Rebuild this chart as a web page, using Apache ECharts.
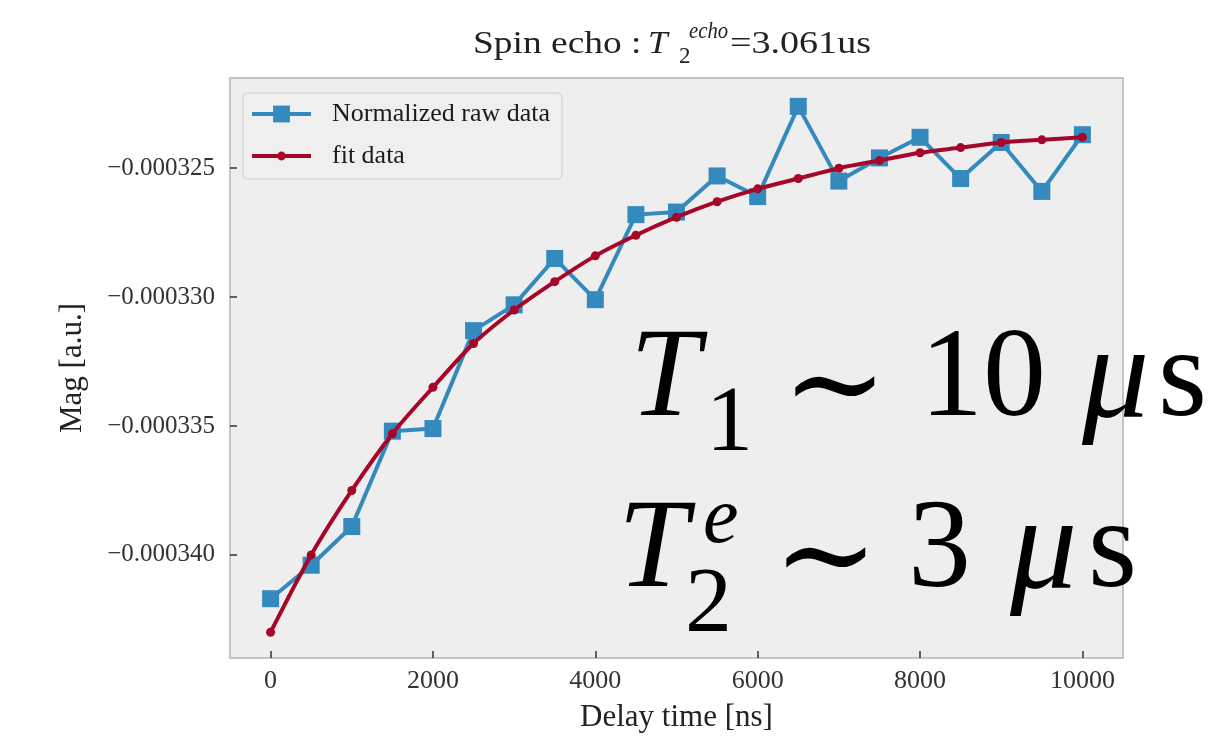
<!DOCTYPE html>
<html>
<head>
<meta charset="utf-8">
<script src="https://cdn.jsdelivr.net/npm/echarts@6/dist/echarts.min.js"></script>
<style>
  html, body { margin: 0; padding: 0; background: #ffffff; }
  #chart { width: 1219px; height: 739px; }
</style>
</head>
<body>
<div id="chart"></div>
<script>
// Delay times of the spin-echo sequence [ns]
const delayTimes = [0, 500, 1000, 1500, 2000, 2500, 3000, 3500, 4000, 4500, 5000,
                    5500, 6000, 6500, 7000, 7500, 8000, 8500, 9000, 9500, 10000];

// Measured magnitude (normalized raw data)
const rawMag = [-0.0003417, -0.0003404, -0.0003389, -0.0003352, -0.0003351, -0.0003313,
                -0.0003303, -0.0003285, -0.0003301, -0.0003268, -0.0003267, -0.0003253,
                -0.0003261, -0.0003226, -0.0003255, -0.0003246, -0.0003238, -0.0003254,
                -0.0003240, -0.0003259, -0.0003237];

// Exponential fit evaluated at the same delays
const fitMag = [-0.0003430, -0.0003400, -0.0003375, -0.0003353, -0.0003335, -0.0003318,
                -0.0003305, -0.0003294, -0.0003284, -0.0003276, -0.0003269, -0.0003263,
                -0.0003258, -0.0003254, -0.0003250, -0.0003247, -0.0003244, -0.0003242,
                -0.0003240, -0.0003239, -0.0003238];

// Tick positions
const xTicks = [0, 2000, 4000, 6000, 8000, 10000];
const yTicks = [-0.00034, -0.000335, -0.00033, -0.000325];

const seriesNames = ['Normalized raw data', 'fit data'];
const axisNames = ['Delay time [ns]', 'Mag [a.u.]'];

const SERIF = '"Liberation Serif", "DejaVu Serif", serif';
const BLUE = '#348ABD';
const RED = '#A60628';

const pairs = (xs, ys) => xs.map((x, i) => [x, ys[i]]);

const chart = echarts.init(document.getElementById('chart'), null, { renderer: 'canvas' });

function txt(x, y, text, size, opts) {
  opts = opts || {};
  return {
    type: 'text',
    x: x, y: y,
    z: 100,
    scaleX: opts.scaleX || 1,
    style: {
      text: text,
      font: (opts.italic ? 'italic ' : '') + size + 'px ' + SERIF,
      fill: opts.color || '#000',
      align: 'left',
      verticalAlign: 'middle'
    }
  };
}

const legendText = { fontFamily: SERIF, fontSize: 26, color: '#1a1a1a', padding: [0, 0, 0, 16] };

const option = {
  backgroundColor: '#ffffff',
  animation: false,
  grid: {
    left: 230, right: 96, top: 78, bottom: 81,
    show: true,
    backgroundColor: '#eeeeee',
    borderColor: '#c4c4c4',
    borderWidth: 2
  },
  legend: [
    {
      data: [seriesNames[0]],
      left: 250, top: 101,
      padding: 0,
      itemWidth: 59, itemHeight: 21,
      lineStyle: { width: 4 },
      textStyle: legendText,
      selectedMode: false
    },
    {
      data: [seriesNames[1]],
      left: 250, top: 143,
      padding: 0,
      itemWidth: 59, itemHeight: 11,
      lineStyle: { width: 4 },
      textStyle: legendText,
      selectedMode: false
    }
  ],
  xAxis: {
    type: 'value',
    min: -500, max: 10500,
    name: axisNames[0],
    nameLocation: 'middle',
    nameGap: 44,
    nameTextStyle: { fontFamily: SERIF, fontSize: 31, color: '#222' },
    axisLine: { show: false, onZero: false },
    axisTick: { show: true, inside: true, length: 7, customValues: xTicks,
                lineStyle: { color: '#333', width: 1.5 } },
    axisLabel: { customValues: xTicks, margin: 10, fontFamily: SERIF, fontSize: 26, color: '#333',
                 formatter: v => String(v) },
    splitLine: { show: false }
  },
  yAxis: {
    type: 'value',
    min: -0.000344, max: -0.0003215,
    name: axisNames[1],
    nameLocation: 'middle',
    nameGap: 142,
    nameRotate: 90,
    nameTextStyle: { fontFamily: SERIF, fontSize: 31, color: '#222' },
    axisLine: { show: false, onZero: false },
    axisTick: { show: true, inside: true, length: 7, customValues: yTicks,
                lineStyle: { color: '#333', width: 1.5 } },
    axisLabel: {
      customValues: yTicks, margin: 15, fontFamily: SERIF, fontSize: 25, color: '#333',
      formatter: v => '\u2212' + Math.abs(v).toFixed(6)
    },
    splitLine: { show: false }
  },
  series: [
    {
      name: seriesNames[0],
      type: 'line',
      data: pairs(delayTimes, rawMag),
      symbol: 'rect',
      symbolSize: 17,
      showAllSymbol: true,
      lineStyle: { color: BLUE, width: 4 },
      itemStyle: { color: BLUE },
      z: 2
    },
    {
      name: seriesNames[1],
      type: 'line',
      data: pairs(delayTimes, fitMag),
      smooth: 0.3,
      symbol: 'circle',
      symbolSize: 9,
      showAllSymbol: true,
      lineStyle: { color: RED, width: 4 },
      itemStyle: { color: RED },
      z: 3
    }
  ],
  graphic: [
    // legend frame
    {
      type: 'rect', z: 1, zlevel: 0,
      shape: { x: 243, y: 93, width: 319, height: 86, r: 5 },
      style: { fill: '#efefef', stroke: '#d8d8d8', lineWidth: 1.5 }
    },
    // title: Spin echo : T_2^{echo}=3.061us
    txt(473, 45, 'Spin echo :', 32, { scaleX: 1.17, color: '#222' }),
    txt(648, 45, 'T', 32, { italic: true, color: '#222', scaleX: 1.1 }),
    txt(679, 57, '2', 23, { color: '#222' }),
    txt(689, 32, 'echo', 23, { italic: true, color: '#222', scaleX: 0.9 }),
    txt(730, 45, '=3.061us', 32, { scaleX: 1.19, color: '#222' }),
    // T1 ~ 10 us
    txt(630, 382, 'T', 126, { italic: true }),
    txt(706, 425, '1', 94),
    txt(782, 393, '\u223C', 126),
    txt(920, 382, '10', 126),
    txt(1082, 382, '\u03BC', 134, { italic: true }),
    txt(1158, 382, 's', 126),
    // T2^e ~ 3 us
    txt(618, 553, 'T', 126, { italic: true }),
    txt(685, 606, '2', 94),
    txt(703, 521, 'e', 80, { italic: true }),
    txt(773, 564, '\u223C', 126),
    txt(908, 553, '3', 126),
    txt(1010, 553, '\u03BC', 134, { italic: true }),
    txt(1088, 553, 's', 126)
  ]
};

chart.setOption(option);
</script>
</body>
</html>
